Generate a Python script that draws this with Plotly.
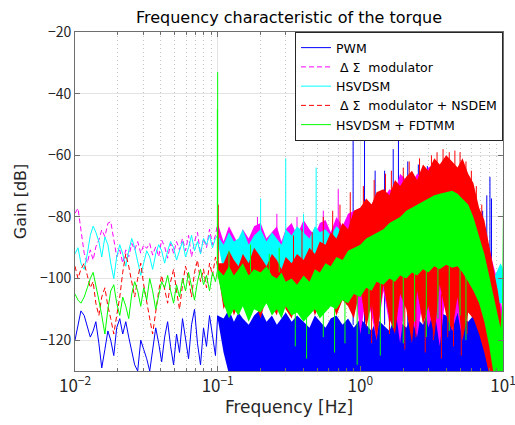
import plotly.graph_objects as go

# ---- low-frequency part (0.01 .. 0.1 Hz): the five spectra are still separate curves
freq_low = [0.01, 0.0105, 0.011, 0.0116, 0.0122, 0.0128, 0.0134, 0.014, 0.0147, 0.0154,
            0.0162, 0.017, 0.0178, 0.0187, 0.0196, 0.0206, 0.0216, 0.0227, 0.0238, 0.025,
            0.0262, 0.0275, 0.0289, 0.0303, 0.0318, 0.0334, 0.035, 0.0368, 0.0386, 0.0405,
            0.0425, 0.0446, 0.0468, 0.0491, 0.0515, 0.054, 0.0567, 0.0595, 0.0625, 0.0656,
            0.0688, 0.0722, 0.0758, 0.0796, 0.0835, 0.0877, 0.092, 0.0965, 0.1]

pwm_low = [-120, -115, -110.5, -112, -116, -119, -117, -114, -121, -129,
           -123, -117, -120, -125, -116, -113, -118, -114, -119, -124,
           -128, -130, -120, -123, -126, -130, -123, -116, -121, -127,
           -119, -114, -122, -128, -118, -124, -113, -119, -126, -115,
           -110, -121, -128, -116, -122, -112, -118, -125, -112]
dsm_low = [-78.8, -77.2, -84.2, -91.8, -95, -90.7, -94, -89.7, -87.5, -84.2,
           -86.4, -82.1, -81.5, -87.5, -92.9, -90.7, -95, -90.7, -92.9, -88.6,
           -90.7, -88, -91.8, -89.1, -90.2, -88.6, -92.4, -89.7, -92.9, -87.5,
           -89.7, -93.4, -88.6, -91.8, -88, -90.7, -87, -91, -86, -93,
           -88, -85, -92, -87, -90, -84, -89, -86, -82]
hsv_low = [-92, -90, -95, -97, -92, -86, -83, -85, -88, -93,
           -86.5, -89, -95, -100, -93, -89, -92, -96, -91, -87,
           -90, -94, -99, -95, -91, -93, -97, -92, -89, -91,
           -95, -91, -88, -90, -94, -91, -88, -93, -90, -86,
           -91, -88, -92, -87, -89, -86, -90, -87, -86]
nsdem_low = [-96, -100, -97, -95, -99, -103, -101, -108, -112, -106,
             -103, -109, -113, -118, -112, -106, -98, -92, -96, -101,
             -106, -100, -95, -102, -108, -113, -118, -110, -104, -99,
             -103, -108, -101, -97, -104, -110, -102, -96, -100, -106,
             -98, -94, -101, -97, -103, -95, -99, -93, -96]
fdtmm_low = [-105, -107, -108, -106, -103, -100, -98, -102, -107, -112,
             -118, -110, -104, -102, -108, -112, -106, -109, -113, -105,
             -101, -104, -109, -103, -107, -100, -104, -110, -105, -101,
             -103, -99, -104, -108, -102, -106, -100, -104, -98, -103,
             -107, -101, -97, -102, -99, -104, -98, -101, -97]

# ---- 0.1 .. 10 Hz: dense noise, given as upper / lower envelope of each spectrum
freq_band = [0.1, 0.11, 0.12, 0.13, 0.14, 0.15, 0.165, 0.18, 0.2, 0.22,
             0.24, 0.26, 0.28, 0.3, 0.33, 0.36, 0.4, 0.44, 0.48, 0.52,
             0.57, 0.62, 0.68, 0.75, 0.82, 0.9, 1.0, 1.1, 1.2, 1.3,
             1.45, 1.6, 1.75, 1.9, 2.1, 2.3, 2.5, 2.75, 3.0, 3.3,
             3.6, 4.0, 4.4, 4.8, 5.2, 5.7, 6.2, 6.8, 7.4, 8.0,
             8.6, 9.2, 9.6, 9.85, 10.0]

pwm_hi = [-112, -113, -110, -114, -111, -113, -115, -112, -110, -114,
          -112, -115, -113, -111, -114, -112, -114, -116, -112, -114,
          -116, -113, -112, -115, -113, -116, -113, -115, -117, -113,
          -115, -117, -112, -114, -116, -111, -113, -115, -110, -114,
          -111, -112, -115, -111, -113, -114, -112, -116, -118, -122,
          -126, -129, -131, -131, -131]
pwm_lo = [-113, -124, -131, -131, -131, -131, -131, -131, -131, -131,
          -131, -131, -131, -131, -131, -131, -131, -131, -131, -131,
          -131, -131, -131, -131, -131, -131, -131, -131, -131, -131,
          -131, -131, -131, -131, -131, -131, -131, -131, -131, -131,
          -131, -131, -131, -131, -131, -131, -131, -131, -131, -131,
          -131, -131, -131, -131, -131]

dsm_hi = [-82, -88, -83, -86, -89, -84, -87, -83, -82, -87,
          -85, -83, -88, -84, -82, -86, -81, -84, -86, -82,
          -81, -85, -80, -83, -79, -78, -77, -75, -76, -73,
          -74, -71, -72, -66, -68, -69, -66, -67, -64, -63,
          -65, -60, -63, -65, -64, -68, -72, -78, -84, -90,
          -96, -101, -106, -110, -112]
dsm_lo = [-84, -95, -97, -94, -99, -95, -98, -96, -94, -99,
          -96, -95, -98, -94, -97, -99, -95, -97, -94, -98,
          -96, -95, -98, -96, -97, -99, -118, -106, -112, -120,
          -104, -115, -109, -121, -105, -113, -119, -107, -116, -110,
          -122, -104, -117, -111, -120, -106, -110, -112, -114, -116,
          -120, -122, -124, -124, -124]

hsv_hi = [-86, -89, -85, -88, -87, -84, -89, -86, -84, -88,
          -85, -87, -89, -84, -86, -83, -85, -87, -83, -85,
          -84, -86, -83, -85, -84, -85, -84, -86, -84, -86,
          -84, -86, -84, -86, -84, -86, -84, -86, -84, -86,
          -84, -86, -84, -86, -84, -86, -86, -88, -92, -96,
          -100, -97, -95, -96, -97]
hsv_lo = [-88, -98, -101, -97, -103, -99, -100, -104, -98, -101,
          -103, -99, -102, -100, -104, -101, -99, -105, -102, -100,
          -104, -101, -103, -96, -96, -96, -96, -96, -96, -96,
          -96, -96, -96, -96, -96, -96, -96, -96, -96, -96,
          -96, -96, -96, -96, -96, -96, -100, -104, -106, -108,
          -108, -108, -108, -108, -108]

nsdem_hi = [-95, -95, -91, -94, -96, -92, -95, -90, -93, -96,
            -92, -94, -97, -93, -95, -92, -94, -90, -92, -88,
            -89, -85, -87, -82, -84, -78, -77, -74, -76, -72,
            -71, -73, -68, -70, -67, -65, -68, -63, -65, -61,
            -63, -60, -62, -64, -61, -66, -69, -77, -81, -90,
            -97, -104, -110, -117, -122]
nsdem_lo = [-97, -110, -106, -112, -108, -105, -111, -107, -113, -106,
            -109, -112, -105, -110, -113, -107, -111, -106, -112, -108,
            -110, -106, -112, -107, -109, -113, -103, -116, -108, -120,
            -102, -113, -118, -105, -110, -121, -104, -115, -109, -119,
            -102, -112, -117, -106, -120, -111, -113, -118, -124, -131,
            -131, -131, -131, -131, -131]

fdtmm_hi = [-97, -99, -96, -99, -97, -95, -99, -97, -98, -96,
            -99, -100, -98, -101, -100, -102, -99, -101, -97, -98,
            -95, -96, -93, -94, -91, -90, -89, -87, -86, -85,
            -84, -82, -81, -80, -78, -77, -76, -75, -74, -73,
            -72.5, -72, -71.5, -72.5, -74, -76, -80, -86, -92, -99,
            -106, -112, -116, -110, -76]
fdtmm_lo = [-99, -108, -113, -110, -112, -109, -114, -110, -111, -108,
            -112, -110, -113, -109, -112, -111, -114, -112, -110, -113,
            -111, -109, -110, -107, -108, -105, -106, -103, -104, -101,
            -102, -100, -101, -99, -100, -98, -99, -97, -98, -96,
            -97, -95.5, -96.5, -96, -98, -101, -104, -108, -114, -122,
            -131, -131, -131, -131, -131]

# ---- single lines that stick out of the noise (frequency, from, to)
pwm_spike_f = [0.89, 1.07, 1.27, 1.48, 1.7, 1.85, 2.15, 2.55, 2.95, 3.1, 4.1, 7.2, 7.7, 8.1, 8.3]
pwm_spike_a = [-115] * 15
pwm_spike_b = [-44, -47, -65, -65, -58, -53, -62, -63, -63.5, -66, -61, -78, -73, -67, -74]

dsm_spike_f = [0.19, 0.26, 0.36, 0.55, 0.7]
dsm_spike_a = [-88] * 5
dsm_spike_b = [-80, -79, -80, -78, -71]

hsv_spike_f = [0.2, 0.3, 0.4, 0.49]
hsv_spike_a = [-90] * 4
hsv_spike_b = [-74, -61, -79, -64]

nsdem_spike_f = [0.101, 0.34, 0.39, 0.46, 0.55, 0.64, 0.72, 0.85,
                 1.05, 1.25, 1.5, 1.65, 2.0, 2.2, 2.6, 3.15, 3.45, 3.8, 4.2, 4.6, 5.0, 5.5, 6.0, 6.5, 7.1,
                 1.2, 1.6, 2.05, 2.45, 2.85, 3.25, 3.7, 4.1, 4.5, 5.1, 5.6]
nsdem_spike_a = [-100, -95, -95, -95, -95, -95, -95, -95,
                 -80, -80, -80, -80, -80, -80, -80, -80, -80, -80, -80, -80, -80, -80, -80, -80, -80,
                 -105, -105, -105, -105, -105, -105, -105, -105, -105, -105, -105]
nsdem_spike_b = [-76, -86, -84, -85, -80, -78, -76, -72,
                 -70, -68, -66, -65, -64, -62, -61, -60, -59, -58, -59, -58.5, -59, -62, -65, -70, -76,
                 -121, -118, -123, -119, -124, -120, -126, -119, -122, -125, -118]

fdtmm_spike_f = [0.0995, 0.1, 0.12, 0.17, 0.23, 0.27,
                 0.35, 0.42, 0.55, 0.66, 0.78, 0.95, 1.15, 1.38, 1.7, 2.0, 2.4, 2.9, 3.5, 4.2, 5.0, 5.5]
fdtmm_spike_a = [-97, -97, -98, -98, -98, -98,
                 -105, -105, -105, -105, -105, -105, -103, -101, -100, -99, -98, -97, -96, -96, -97, -99]
fdtmm_spike_b = [-45, -33, -91, -89, -92, -90,
                 -122, -126, -119, -124, -121, -128, -118, -125, -116, -121, -114, -119, -113, -117, -112, -120]

tick_f = [0.01, 0.1, 1, 10]
tick_txt = ['10<sup>−2</sup>', '10<sup>−1</sup>', '10<sup>0</sup>', '10<sup>1</sup>']

names = ['PWM', '\u00a0Δ Σ\u00a0 modulator', 'HSVDSM', '\u00a0Δ Σ\u00a0 modulator + NSDEM', 'HSVDSM + FDTMM']
colors = ['#0000ff', '#ff00ff', '#00ffff', '#ff0000', '#00ff00']
dashes = ['solid', '5px,3px', 'solid', '5px,3px', 'solid']

lows = [pwm_low, dsm_low, hsv_low, nsdem_low, fdtmm_low]
his = [pwm_hi, dsm_hi, hsv_hi, nsdem_hi, fdtmm_hi]
los = [pwm_lo, dsm_lo, hsv_lo, nsdem_lo, fdtmm_lo]
spikes = [(pwm_spike_f, pwm_spike_a, pwm_spike_b),
          (dsm_spike_f, dsm_spike_a, dsm_spike_b),
          (hsv_spike_f, hsv_spike_a, hsv_spike_b),
          (nsdem_spike_f, nsdem_spike_a, nsdem_spike_b),
          (fdtmm_spike_f, fdtmm_spike_a, fdtmm_spike_b)]

fig = go.Figure()
for i in range(5):
    # dense part as a filled band
    fig.add_trace(go.Scatter(
        x=freq_band + freq_band[::-1],
        y=his[i] + los[i][::-1],
        fill='toself', fillcolor=colors[i],
        mode='lines', line=dict(width=0, color=colors[i]),
        showlegend=False, hoverinfo='skip'))
    # isolated spectral lines
    sx, sy = [], []
    for f, a, b in zip(*spikes[i]):
        sx += [f, f, None]
        sy += [a, b, None]
    fig.add_trace(go.Scatter(
        x=sx, y=sy, mode='lines',
        line=dict(color=colors[i], width=1),
        showlegend=False, hoverinfo='skip'))
    # low-frequency curve, carries the legend entry
    fig.add_trace(go.Scatter(
        x=freq_low, y=lows[i], mode='lines', name=names[i],
        line=dict(color=colors[i], width=1, dash=dashes[i])))

label_font = 'DejaVu Sans'
tick_font = 'Noto Sans CJK JP'
fig.update_layout(
    width=515, height=425,
    margin=dict(l=75, r=12, t=32, b=54),
    paper_bgcolor='white', plot_bgcolor='white',
    font=dict(family=label_font, color='#262626', size=14),
    title=dict(text='Frequency characteristic of the torque', x=0.5, xref='paper',
               y=0.96, yref='container', yanchor='middle',
               font=dict(size=16, color='#000000')),
    legend=dict(x=1, xanchor='right', y=1, yanchor='top',
                bgcolor='white', bordercolor='#262626', borderwidth=1,
                font=dict(size=12.5, color='#000000'), tracegroupgap=0,
                itemwidth=30),
    xaxis=dict(type='log', range=[-2, 1], tickvals=tick_f, ticktext=tick_txt,
               title=dict(text='Frequency [Hz]', font=dict(size=17), standoff=4),
               tickfont=dict(size=17, family=tick_font), ticklabeloverflow='allow',
               showline=True, linecolor='#6e6e6e', mirror='ticks',
               ticks='inside', ticklen=5, tickcolor='#6e6e6e',
               showgrid=True, gridcolor='#e3e3e3', automargin=False,
               minor=dict(dtick='D1', showgrid=True, griddash='1px,3px', gridcolor='#c4c4c4',
                          ticks='inside', ticklen=3, tickcolor='#6e6e6e'),
               zeroline=False),
    yaxis=dict(range=[-130, -20], dtick=20, tick0=0,
               title=dict(text='Gain [dB]', font=dict(size=16), standoff=9),
               tickfont=dict(size=14, family=tick_font),
               showline=True, linecolor='#6e6e6e', mirror='ticks',
               ticks='inside', ticklen=5, tickcolor='#6e6e6e', automargin=False,
               showgrid=True, gridcolor='#e3e3e3', zeroline=False),
)

# the page's default body margin would shift the 515x425 figure inside the window
fig.write_html('out.html', config={'displayModeBar': False},
               post_script="document.body.style.margin='0px';")
